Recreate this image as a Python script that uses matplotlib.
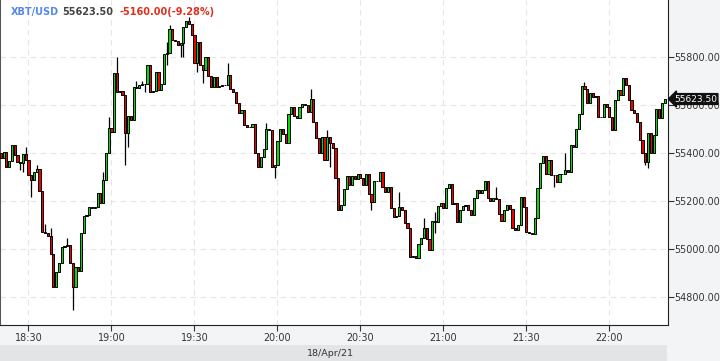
import numpy as np
import pandas as pd
import matplotlib
matplotlib.use('Agg')
import matplotlib.pyplot as plt
import matplotlib.dates as mdates
from matplotlib.transforms import blended_transform_factory

# 1-minute candles, XBT/USD, 18/Apr/21 18:20 - 22:20
first_open = 55399
closes = [
    55378, 55403, 55340, 55365, 55432, 55390, 55361, 55357, 55395, 55370,
    55307, 55286, 55320, 55332, 55240, 55069, 55065, 55053, 54978, 54840,
    54903, 54940, 55007, 55011, 55015, 54940, 54840, 54924, 54907, 55065,
    55136, 55140, 55174, 55169, 55174, 55232, 55190, 55286, 55399, 55503,
    55486, 55732, 55653, 55657, 55640, 55482, 55553, 55536, 55674, 55669,
    55682, 55686, 55684, 55765, 55653, 55657, 55736, 55661, 55686, 55811,
    55815, 55915, 55870, 55866, 55849, 55857, 55924, 55949, 55936, 55890,
    55774, 55861, 55765, 55745, 55799, 55720, 55674, 55715, 55674, 55678,
    55682, 55680, 55724, 55665, 55653, 55607, 55565, 55578, 55515, 55507,
    55505, 55520, 55399, 55340, 55382, 55415, 55499, 55495, 55340, 55349,
    55449, 55499, 55478, 55440, 55561, 55590, 55553, 55545, 55590, 55603,
    55599, 55570, 55624, 55528, 55461, 55399, 55465, 55370, 55465, 55440,
    55420, 55295, 55161, 55182, 55249, 55303, 55265, 55303, 55290, 55311,
    55295, 55265, 55311, 55228, 55194, 55282, 55280, 55320, 55257, 55236,
    55257, 55169, 55132, 55136, 55174, 55161, 55107, 55086, 54965, 54968,
    54962, 55019, 55044, 55086, 55040, 54994, 55115, 55113, 55178, 55190,
    55169, 55253, 55270, 55186, 55190, 55111, 55161, 55178, 55182, 55161,
    55140, 55211, 55245, 55232, 55245, 55282, 55211, 55199, 55211, 55209,
    55144, 55115, 55161, 55182, 55165, 55086, 55078, 55099, 55215, 55174,
    55069, 55067, 55061, 55128, 55253, 55357, 55386, 55311, 55370, 55307,
    55305, 55278, 55311, 55313, 55328, 55320, 55432, 55424, 55499, 55561,
    55678, 55665, 55607, 55649, 55632, 55636, 55549, 55547, 55603, 55590,
    55549, 55495, 55620, 55661, 55640, 55711, 55682, 55620, 55578, 55565,
    55528, 55453, 55399, 55361, 55482, 55399, 55474, 55582, 55545, 55607,
    55623.5,
]

# wicks that stick out beyond the bodies (candle index -> price)
wick_high = {9: 55424, 13: 55349, 16: 55103, 18: 55086, 24: 55044, 37: 55320,
             39: 55549, 42: 55799, 49: 55699, 51: 55699, 60: 55861, 61: 55932,
             68: 55965, 82: 55774, 96: 55524, 112: 55665, 118: 55495,
             144: 55236, 153: 55128, 157: 55153, 179: 55257, 204: 55399,
             211: 55695}
wick_low = {7: 55328, 8: 55320, 11: 55215, 26: 54744, 45: 55349, 46: 55424,
            52: 55653, 60: 55765, 65: 55799, 66: 55799, 71: 55736, 73: 55690,
            99: 55295, 119: 55340, 134: 55161, 157: 55065, 200: 55257,
            233: 55349, 234: 55336}

last_price = 55623.50
change = -5160.00
change_pct = -9.28
y_ticks = [54800, 55000, 55200, 55400, 55600, 55800]
x_tick_labels = ['18:30', '19:00', '19:30', '20:00', '20:30', '21:00', '21:30', '22:00']

times = pd.date_range('2021-04-18 18:20', periods=len(closes), freq='min')
opens = [first_open] + closes[:-1]
highs = [max(o, c, wick_high.get(i, o)) for i, (o, c) in enumerate(zip(opens, closes))]
lows = [min(o, c, wick_low.get(i, o)) for i, (o, c) in enumerate(zip(opens, closes))]

W, H = 720, 361
fig = plt.figure(figsize=(W / 100, H / 100), dpi=100, facecolor='#f3f4f6')
ax = fig.add_axes([0, 36 / H, 668 / W, 325 / H])
ax.set_facecolor('white')

x = mdates.date2num(times)
minute = 1 / 1440.0
ax.vlines(x, lows, highs, color='black', lw=0.9, zorder=2)
for xi, o, c in zip(x, opens, closes):
    col = '#00e000' if c >= o else '#ee0000'
    h = abs(c - o)
    if h < 1.5:
        ax.hlines(o, xi - 0.4 * minute, xi + 0.4 * minute, color='black', lw=0.9, zorder=3)
    else:
        ax.bar(xi, h, bottom=min(o, c), width=0.78 * minute, color=col,
               edgecolor='black', linewidth=0.7, zorder=3)

t0 = pd.Timestamp('2021-04-18 18:30')
ax.set_xlim(mdates.date2num(t0 - pd.Timedelta(seconds=618)),
            mdates.date2num(t0 + pd.Timedelta(seconds=13872)))
ax.set_ylim(54682, 56036)

tick_times = [pd.Timestamp('2021-04-18 ' + s) for s in x_tick_labels]
ax.set_xticks(mdates.date2num(tick_times))
ax.set_xticklabels(x_tick_labels)
ax.yaxis.tick_right()
ax.set_yticks(y_ticks)
ax.set_yticklabels(['%.2f' % v for v in y_ticks])
ax.tick_params(axis='both', labelsize=6.9, colors='#333333', length=4, width=0.8, pad=2)
ax.tick_params(axis='y', pad=0.5)

ax.grid(True, color='#e6e6e6', lw=0.8, ls=(0, (5, 4)))
ax.set_axisbelow(True)
ax.spines['top'].set_visible(False)
ax.spines['left'].set_color('#555555')
ax.spines['left'].set_linewidth(1.5)
ax.spines['bottom'].set_color('#222222')
ax.spines['right'].set_color('#222222')

# last price tag (sits over the 55600 label, as in the original)
trans = blended_transform_factory(ax.transAxes, ax.transData)
ax.text(1.009, last_price, '%.2f' % last_price, transform=trans, fontsize=6.5,
        color='white', va='center', ha='left', zorder=5, clip_on=False,
        bbox=dict(boxstyle='larrow,pad=0.1', fc='#111111', ec='#111111'))

# header
fig.text(11 / W, 1 - 12 / H, 'XBT/USD', fontsize=7, fontweight='bold',
         color='#5588ee', va='center')
fig.text(62 / W, 1 - 12 / H, '%.2f' % last_price, fontsize=7, fontweight='bold',
         color='#444444', va='center')
fig.text(119 / W, 1 - 12 / H, '%.2f(%.2f%%)' % (change, change_pct), fontsize=7,
         fontweight='bold', color='#e0301e', va='center')

# date strip
strip = fig.add_axes([0, 0, 667 / W, 16 / H])
strip.set_facecolor('#e3e4e6')
strip.set_xticks([])
strip.set_yticks([])
for s in strip.spines.values():
    s.set_visible(False)
strip.text(0.495, 0.5, '18/Apr/21', fontsize=6.8, color='#333333',
           ha='center', va='center', transform=strip.transAxes)

fig.savefig('out.png', dpi=100, facecolor=fig.get_facecolor())
